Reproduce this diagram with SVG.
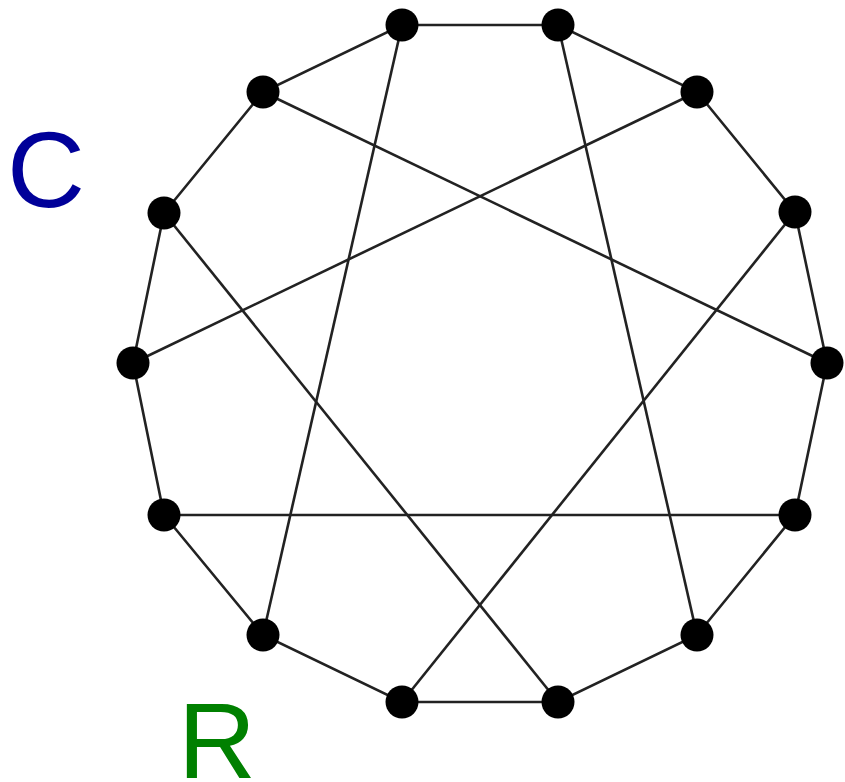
<svg xmlns="http://www.w3.org/2000/svg" width="845" height="782" viewBox="0 0 845 782">
<style>
.e{stroke:#222;stroke-width:2.6;fill:none}
.n{fill:#000}
.lbl{font-family:"Liberation Sans",Arial,sans-serif;font-size:108px}
</style>
<rect width="845" height="782" fill="#fff"/>
<g id="connectors">
<polygon class="e" points="402,25 558,25 697,92 795,212 827,363 795,515 697,635 558,702 402,702 263,635 164,515 133,363 164,213 263,92"/>
<line class="e" x1="402" y1="25" x2="263" y2="635"/>
<line class="e" x1="558" y1="25" x2="697" y2="635"/>
<line class="e" x1="697" y1="92" x2="133" y2="363"/>
<line class="e" x1="263" y1="92" x2="827" y2="363"/>
<line class="e" x1="795" y1="212" x2="402" y2="702"/>
<line class="e" x1="164" y1="213" x2="558" y2="702"/>
<line class="e" x1="164" y1="515" x2="795" y2="515"/>
</g>
<g id="n1"><circle class="n" cx="402" cy="25" r="16.5"/></g>
<g id="n2"><circle class="n" cx="558" cy="25" r="16.5"/></g>
<g id="n3"><circle class="n" cx="697" cy="92" r="16.5"/></g>
<g id="n4"><circle class="n" cx="795" cy="212" r="16.5"/></g>
<g id="n5"><circle class="n" cx="827" cy="363" r="16.5"/></g>
<g id="n6"><circle class="n" cx="795" cy="515" r="16.5"/></g>
<g id="n7"><circle class="n" cx="697" cy="635" r="16.5"/></g>
<g id="n8"><circle class="n" cx="558" cy="702" r="16.5"/></g>
<g id="n9"><circle class="n" cx="402" cy="702" r="16.5"/></g>
<g id="n10"><circle class="n" cx="263" cy="635" r="16.5"/></g>
<g id="n11"><circle class="n" cx="164" cy="515" r="16.5"/></g>
<g id="n12"><circle class="n" cx="133" cy="363" r="16.5"/></g>
<g id="n13"><circle class="n" cx="164" cy="213" r="16.5"/></g>
<g id="n14"><circle class="n" cx="263" cy="92" r="16.5"/></g>
<text class="lbl" x="7" y="207" fill="#000099">C</text>
<text class="lbl" x="178" y="778" fill="#008000">R</text>
</svg>
